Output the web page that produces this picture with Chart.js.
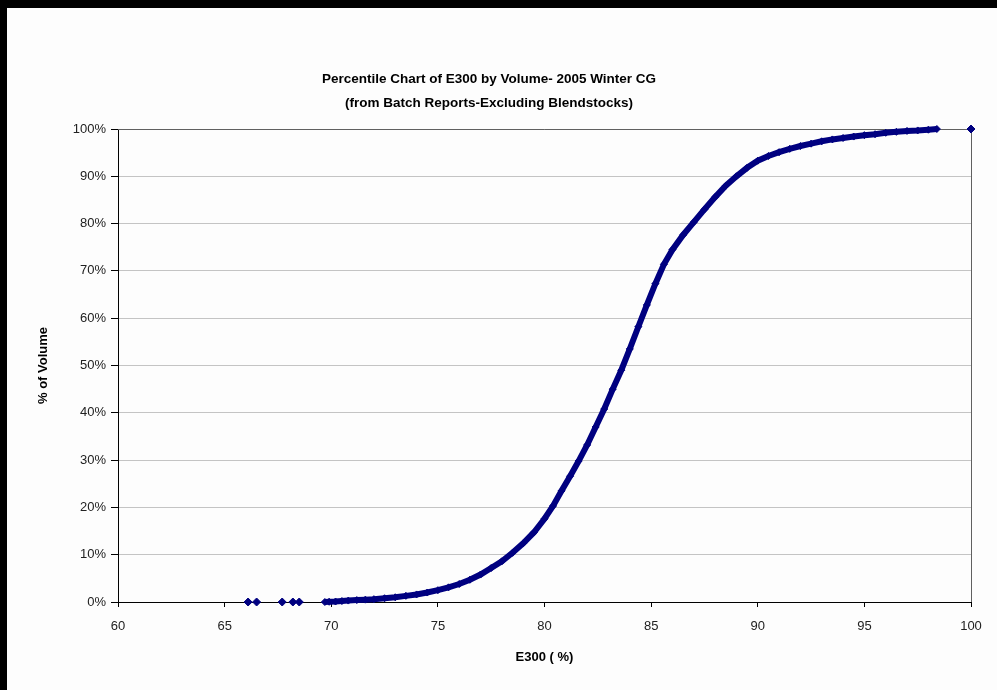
<!DOCTYPE html>
<html>
<head>
<meta charset="utf-8">
<script src="https://cdn.jsdelivr.net/npm/chart.js@4.4.1/dist/chart.umd.min.js"></script>
<style>
  html, body { margin: 0; padding: 0; background: #fdfdfd; }
  #wrap {
    position: relative;
    width: 997px;
    height: 690px;
    box-sizing: border-box;
    border-top: 8px solid #000;
    border-left: 7px solid #000;
    background: #fdfdfd;
  }
</style>
</head>
<body>
<div id="wrap"><canvas id="e300Chart"></canvas></div>
<script>
// Low outliers sitting on the 0% line
const tailE300 = [66.1, 66.5, 67.7, 68.2, 68.5];
const tailPct = [0, 0, 0, 0, 0];

// Main percentile curve (E300 %, cumulative % of volume)
const curveE300 = [69.7, 69.9, 70.2, 70.5, 70.8, 71.2, 71.6, 72.0, 72.5, 73.0,
  73.5, 74.0, 74.5, 75.0, 75.5, 76.0, 76.5, 77.0, 77.5, 78.0,
  78.5, 79.0, 79.5, 80.0, 80.4, 80.8, 81.2, 81.6, 82.0, 82.4,
  82.8, 83.2, 83.6, 84.0, 84.4, 84.8, 85.2, 85.6, 86.0, 86.5,
  87.0, 87.5, 88.0, 88.5, 89.0, 89.5, 90.0, 90.5, 91.0, 91.5,
  92.0, 92.5, 93.0, 93.5, 94.0, 94.5, 95.0, 95.5, 96.0, 96.5,
  97.0, 97.5, 98.0, 98.4];
const curvePct = [0.0, 0.05, 0.1, 0.2, 0.3, 0.4, 0.5, 0.6, 0.8, 1.0,
  1.3, 1.6, 2.0, 2.5, 3.1, 3.8, 4.7, 5.8, 7.2, 8.6,
  10.4, 12.4, 14.7, 17.6, 20.3, 23.5, 26.6, 29.8, 33.2, 37.0,
  40.8, 45.0, 49.0, 53.5, 58.2, 62.8, 67.3, 71.4, 74.5, 77.6,
  80.3, 83.0, 85.6, 88.0, 90.0, 91.8, 93.3, 94.3, 95.1, 95.8,
  96.4, 96.9, 97.4, 97.8, 98.1, 98.4, 98.7, 98.9, 99.2, 99.4,
  99.6, 99.7, 99.85, 100];

// Top outlier
const endE300 = [100];
const endPct = [100];

const titleLines = ['Percentile Chart of E300 by Volume- 2005 Winter CG',
  '(from Batch Reports-Excluding Blendstocks)'];

function toPoints(xs, ys) {
  return xs.map((x, i) => ({ x: x, y: ys[i] }));
}

const navy = '#000080';
const fontFamily = '"Liberation Sans", Arial, sans-serif';

// frame the plot area on top and right like Excel does
const plotFrame = {
  id: 'plotFrame',
  beforeDatasetsDraw(chart) {
    const a = chart.chartArea;
    const ctx = chart.ctx;
    ctx.save();
    ctx.strokeStyle = '#606060';
    ctx.lineWidth = 1;
    ctx.beginPath();
    ctx.moveTo(a.left, a.top + 0.5);
    ctx.lineTo(a.right + 0.5, a.top + 0.5);
    ctx.lineTo(a.right + 0.5, a.bottom);
    ctx.stroke();
    ctx.restore();
  }
};

const ctx = document.getElementById('e300Chart').getContext('2d');
const e300Chart = new Chart(ctx, {
  type: 'scatter',
  data: {
    datasets: [
      {
        data: toPoints(tailE300, tailPct),
        clip: false,
        pointStyle: 'rectRot', pointRadius: 4, pointBorderWidth: 1,
        backgroundColor: navy, borderColor: navy
      },
      {
        data: toPoints(curveE300, curvePct),
        clip: false,
        showLine: true, borderWidth: 6, tension: 0,
        pointStyle: 'rectRot', pointRadius: 3.5, pointBorderWidth: 1,
        backgroundColor: navy, borderColor: navy
      },
      {
        data: toPoints(endE300, endPct),
        clip: false,
        pointStyle: 'rectRot', pointRadius: 4, pointBorderWidth: 1,
        backgroundColor: navy, borderColor: navy
      }
    ]
  },
  options: {
    responsive: true,
    maintainAspectRatio: false,
    animation: false,
    layout: { padding: { left: 0, right: 26, top: 0, bottom: 0 } },
    plugins: {
      legend: { display: false },
      tooltip: { enabled: false },
      title: {
        display: true,
        text: titleLines,
        color: '#000',
        font: { family: fontFamily, size: 13.5, weight: 'bold', lineHeight: 1.778 },
        padding: { top: 59, bottom: 14 }
      }
    },
    scales: {
      x: {
        type: 'linear',
        min: 60,
        max: 100,
        afterFit: function(scale) { scale.height = 88; },
        ticks: {
          stepSize: 5,
          color: '#222',
          padding: 12,
          maxRotation: 0,
          font: { family: fontFamily, size: 13 }
        },
        grid: { drawOnChartArea: false, drawTicks: true, tickLength: 5, tickColor: '#000' },
        border: { color: '#000', width: 1 },
        title: {
          display: true,
          text: 'E300 ( %)',
          color: '#000',
          font: { family: fontFamily, size: 13, weight: 'bold' },
          padding: { top: 0, bottom: 25 }
        }
      },
      y: {
        min: 0,
        max: 100,
        afterFit: function(scale) { scale.width = 111; },
        ticks: {
          stepSize: 10,
          color: '#222',
          padding: 5,
          font: { family: fontFamily, size: 13 },
          callback: function(v) { return v + '%'; }
        },
        grid: { color: '#c4c4c4', tickLength: 7, tickColor: '#000' },
        border: { color: '#000', width: 1 },
        title: {
          display: true,
          text: '% of Volume',
          color: '#000',
          font: { family: fontFamily, size: 13, weight: 'bold' },
          padding: { top: 29, bottom: 0 }
        }
      }
    }
  },
  plugins: [plotFrame]
});
</script>
</body>
</html>
